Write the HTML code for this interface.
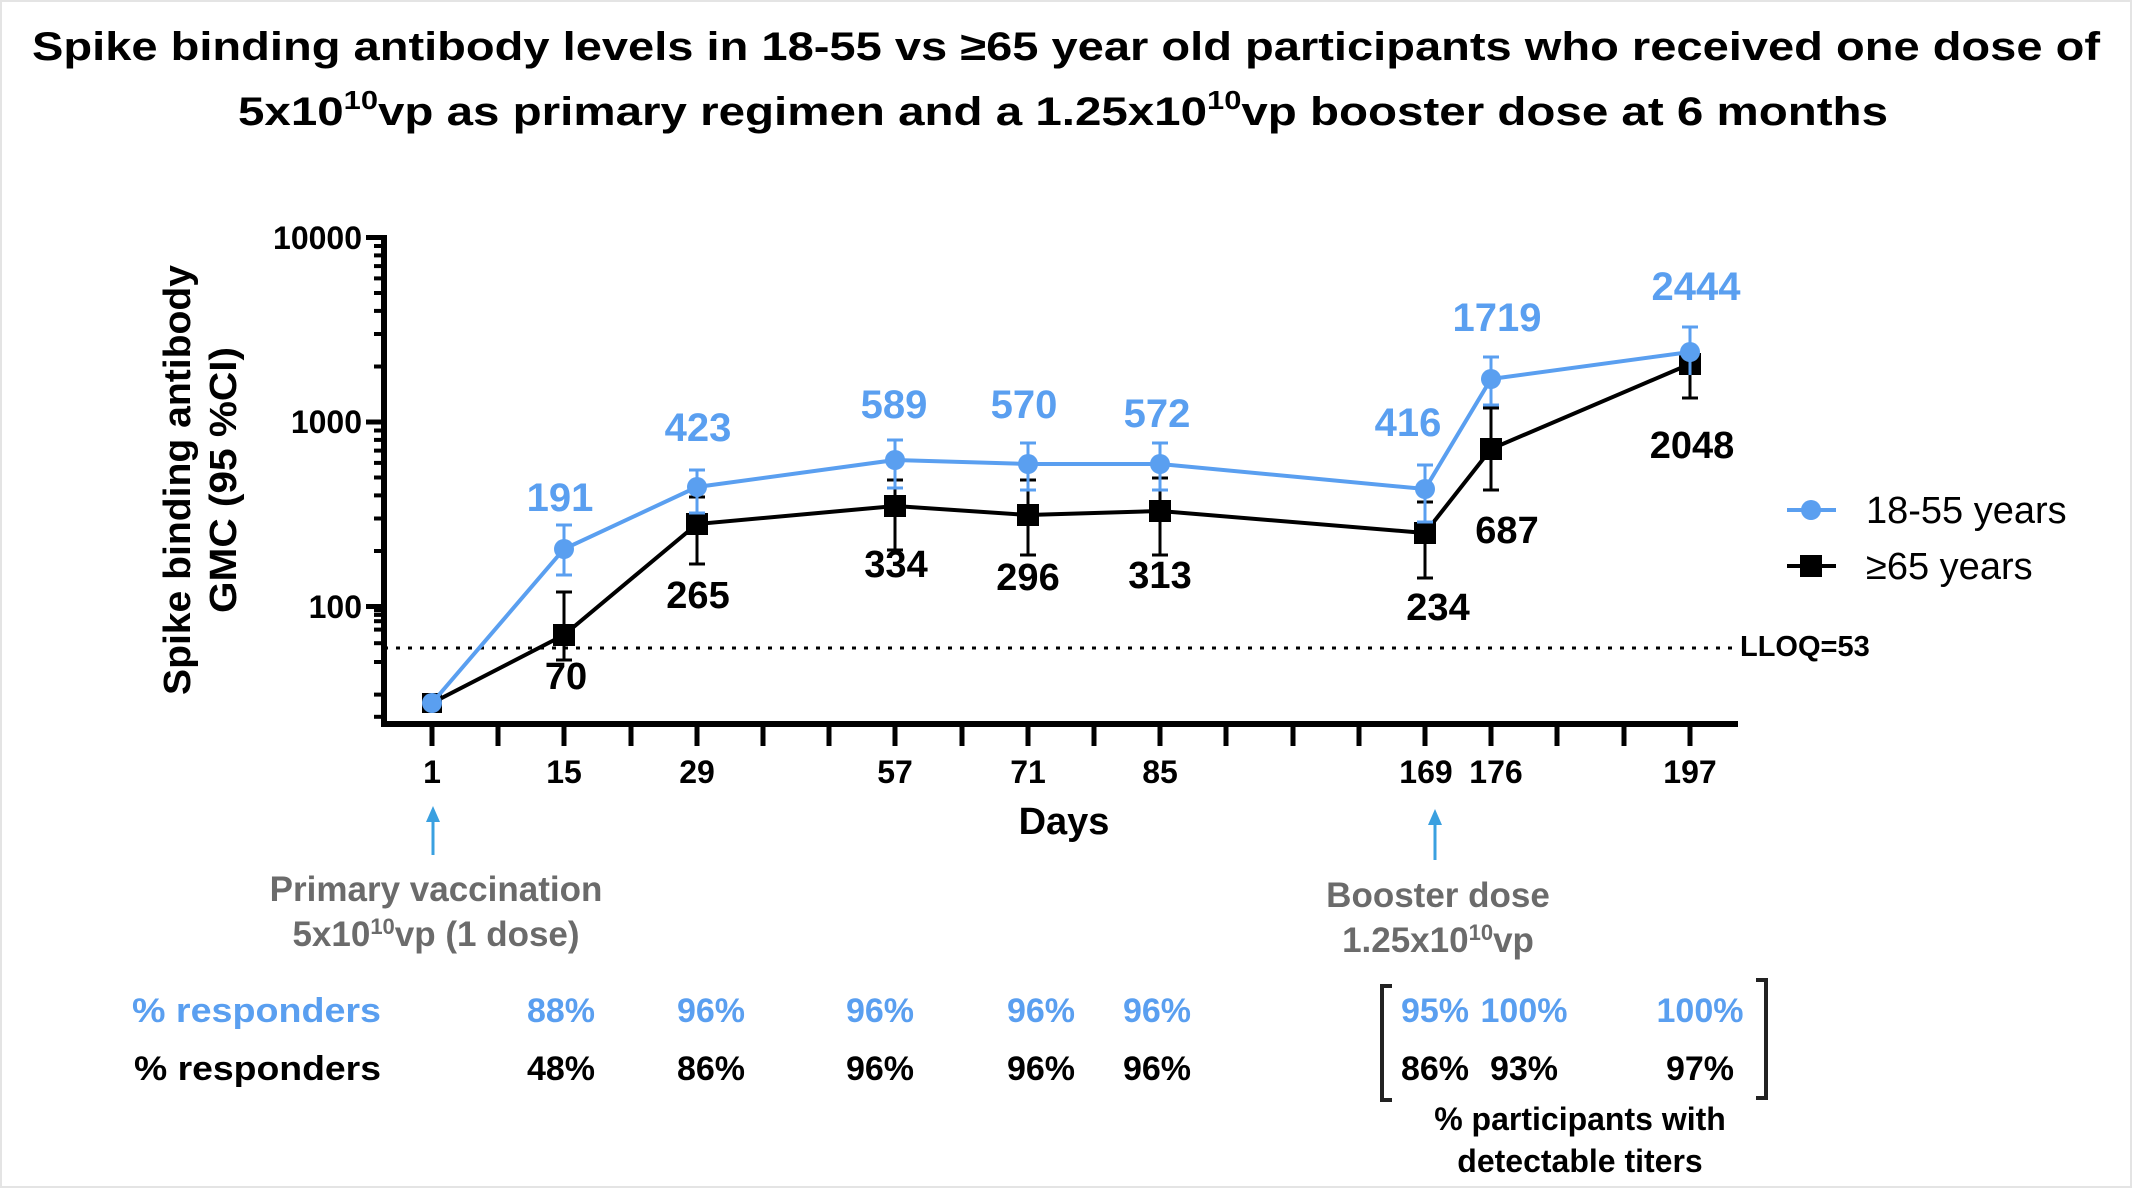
<!DOCTYPE html>
<html><head><meta charset="utf-8"><style>
html,body{margin:0;padding:0;background:#fff}
svg{display:block}
text{font-family:"Liberation Sans Narrow","Liberation Sans",sans-serif;font-weight:bold}
.t{font-family:"Liberation Sans",sans-serif}
.b{fill:#5a9ff0}
.g{fill:#6b6b6b}
</style></head><body>
<svg width="2132" height="1188" viewBox="0 0 2132 1188" xmlns="http://www.w3.org/2000/svg">
<rect x="1" y="1" width="2130" height="1186" fill="#fff" stroke="#e4e4e4" stroke-width="2"/>
<!-- Title -->
<text class="t" x="1066" y="60" font-size="40" text-anchor="middle" textLength="2068" lengthAdjust="spacingAndGlyphs">Spike binding antibody levels in 18-55 vs ≥65 year old participants who received one dose of</text>
<text class="t" x="1063" y="125" font-size="40" text-anchor="middle" textLength="1650" lengthAdjust="spacingAndGlyphs">5x10<tspan dy="-16" font-size="26">10</tspan><tspan dy="16">vp as primary regimen and a 1.25x10</tspan><tspan dy="-16" font-size="26">10</tspan><tspan dy="16">vp booster dose at 6 months</tspan></text>

<!-- Y axis label -->
<text class="t" transform="translate(190,480) rotate(-90)" font-size="38" text-anchor="middle" textLength="430" lengthAdjust="spacingAndGlyphs">Spike binding antibody</text>
<text class="t" transform="translate(236,480) rotate(-90)" font-size="38" text-anchor="middle" textLength="266" lengthAdjust="spacingAndGlyphs">GMC (95 %CI)</text>

<!-- Axes -->
<g stroke="#000" fill="none">
<line x1="384" y1="235" x2="384" y2="727" stroke-width="6"/>
<line x1="381" y1="724" x2="1738" y2="724" stroke-width="6"/>
<g stroke-width="5">
<line x1="366" y1="237.5" x2="384" y2="237.5"/>
<line x1="366" y1="422" x2="384" y2="422"/>
<line x1="366" y1="606.5" x2="384" y2="606.5"/>
</g>
<g stroke-width="4">
<line x1="374" y1="662" x2="384" y2="662"/><line x1="374" y1="643.2" x2="384" y2="643.2"/><line x1="374" y1="629.6" x2="384" y2="629.6"/><line x1="374" y1="621.2" x2="384" y2="621.2"/><line x1="374" y1="614.9" x2="384" y2="614.9"/><line x1="374" y1="610.3" x2="384" y2="610.3"/><line x1="374" y1="694.6" x2="384" y2="694.6"/><line x1="374" y1="716.8" x2="384" y2="716.8"/>
<line x1="374" y1="551" x2="384" y2="551"/><line x1="374" y1="518.5" x2="384" y2="518.5"/><line x1="374" y1="495.4" x2="384" y2="495.4"/><line x1="374" y1="477.5" x2="384" y2="477.5"/><line x1="374" y1="462.9" x2="384" y2="462.9"/><line x1="374" y1="450.6" x2="384" y2="450.6"/><line x1="374" y1="439.9" x2="384" y2="439.9"/><line x1="374" y1="430.5" x2="384" y2="430.5"/>
<line x1="374" y1="366.5" x2="384" y2="366.5"/><line x1="374" y1="334" x2="384" y2="334"/><line x1="374" y1="310.9" x2="384" y2="310.9"/><line x1="374" y1="293" x2="384" y2="293"/><line x1="374" y1="278.4" x2="384" y2="278.4"/><line x1="374" y1="266.1" x2="384" y2="266.1"/><line x1="374" y1="255.4" x2="384" y2="255.4"/><line x1="374" y1="246" x2="384" y2="246"/>
</g>
<g stroke-width="5">
<line x1="432" y1="724" x2="432" y2="746"/><line x1="498" y1="724" x2="498" y2="746"/><line x1="564" y1="724" x2="564" y2="746"/><line x1="631" y1="724" x2="631" y2="746"/><line x1="697" y1="724" x2="697" y2="746"/><line x1="763" y1="724" x2="763" y2="746"/><line x1="829" y1="724" x2="829" y2="746"/><line x1="895" y1="724" x2="895" y2="746"/><line x1="962" y1="724" x2="962" y2="746"/><line x1="1028" y1="724" x2="1028" y2="746"/><line x1="1094" y1="724" x2="1094" y2="746"/><line x1="1160" y1="724" x2="1160" y2="746"/><line x1="1226" y1="724" x2="1226" y2="746"/><line x1="1293" y1="724" x2="1293" y2="746"/><line x1="1359" y1="724" x2="1359" y2="746"/><line x1="1425" y1="724" x2="1425" y2="746"/><line x1="1491" y1="724" x2="1491" y2="746"/><line x1="1557" y1="724" x2="1557" y2="746"/><line x1="1624" y1="724" x2="1624" y2="746"/><line x1="1690" y1="724" x2="1690" y2="746"/>
</g>
<line x1="384" y1="648" x2="1738" y2="648" stroke-width="3" stroke-dasharray="4,8"/>
</g>
<text x="1740" y="656" font-size="29" font-family="Liberation Sans">LLOQ=53</text>

<g font-size="32" text-anchor="end">
<text x="362" y="249">10000</text>
<text x="362" y="433">1000</text>
<text x="362" y="618">100</text>
</g>
<g font-size="32" text-anchor="middle">
<text x="432" y="783">1</text><text x="564" y="783">15</text><text x="697" y="783">29</text><text x="895" y="783">57</text><text x="1028" y="783">71</text><text x="1160" y="783">85</text><text x="1426" y="783">169</text><text x="1496" y="783">176</text><text x="1690" y="783">197</text>
</g>
<text x="1064" y="834" font-size="38" text-anchor="middle">Days</text>

<!-- black series -->
<g stroke="#000" stroke-width="3" fill="none">
<line x1="564" y1="592" x2="564" y2="660"/><line x1="556" y1="592" x2="572" y2="592"/><line x1="556" y1="660" x2="572" y2="660"/>
<line x1="697" y1="497" x2="697" y2="564"/><line x1="689" y1="497" x2="705" y2="497"/><line x1="689" y1="564" x2="705" y2="564"/>
<line x1="895" y1="480" x2="895" y2="550"/><line x1="887" y1="480" x2="903" y2="480"/><line x1="887" y1="550" x2="903" y2="550"/>
<line x1="1028" y1="480" x2="1028" y2="555"/><line x1="1020" y1="480" x2="1036" y2="480"/><line x1="1020" y1="555" x2="1036" y2="555"/>
<line x1="1160" y1="478" x2="1160" y2="555"/><line x1="1152" y1="478" x2="1168" y2="478"/><line x1="1152" y1="555" x2="1168" y2="555"/>
<line x1="1425" y1="502" x2="1425" y2="578"/><line x1="1417" y1="502" x2="1433" y2="502"/><line x1="1417" y1="578" x2="1433" y2="578"/>
<line x1="1491" y1="408" x2="1491" y2="490"/><line x1="1483" y1="408" x2="1499" y2="408"/><line x1="1483" y1="490" x2="1499" y2="490"/>
<line x1="1690" y1="345" x2="1690" y2="398"/><line x1="1682" y1="398" x2="1698" y2="398"/>
<polyline stroke-width="4" points="432,703 564,635 697,524 895,506 1028,515 1160,511 1425,533 1491,449 1690,364"/>
</g>
<g fill="#000">
<rect x="553" y="624" width="22" height="22"/><rect x="686" y="513" width="22" height="22"/><rect x="884" y="495" width="22" height="22"/><rect x="1017" y="504" width="22" height="22"/><rect x="1149" y="500" width="22" height="22"/><rect x="1414" y="522" width="22" height="22"/><rect x="1480" y="438" width="22" height="22"/><rect x="1679" y="353" width="22" height="22"/>
<rect x="422" y="693" width="20" height="20"/>
</g>

<!-- blue series -->
<g stroke="#5a9ff0" stroke-width="3" fill="none">
<line x1="564" y1="525" x2="564" y2="575"/><line x1="556" y1="525" x2="572" y2="525"/><line x1="556" y1="575" x2="572" y2="575"/>
<line x1="697" y1="470" x2="697" y2="513"/><line x1="689" y1="470" x2="705" y2="470"/><line x1="689" y1="513" x2="705" y2="513"/>
<line x1="895" y1="440" x2="895" y2="488"/><line x1="887" y1="440" x2="903" y2="440"/><line x1="887" y1="488" x2="903" y2="488"/>
<line x1="1028" y1="443" x2="1028" y2="490"/><line x1="1020" y1="443" x2="1036" y2="443"/><line x1="1020" y1="490" x2="1036" y2="490"/>
<line x1="1160" y1="443" x2="1160" y2="490"/><line x1="1152" y1="443" x2="1168" y2="443"/><line x1="1152" y1="490" x2="1168" y2="490"/>
<line x1="1425" y1="465" x2="1425" y2="522"/><line x1="1417" y1="465" x2="1433" y2="465"/><line x1="1417" y1="522" x2="1433" y2="522"/>
<line x1="1491" y1="357" x2="1491" y2="405"/><line x1="1483" y1="357" x2="1499" y2="357"/><line x1="1483" y1="405" x2="1499" y2="405"/>
<line x1="1690" y1="327" x2="1690" y2="375"/><line x1="1682" y1="327" x2="1698" y2="327"/>
<polyline stroke-width="4" points="432,703 564,549 697,487 895,460 1028,464 1160,464 1425,489 1491,379 1690,352"/>
</g>
<g fill="#5a9ff0">
<circle cx="432" cy="703" r="10"/><circle cx="564" cy="549" r="10"/><circle cx="697" cy="487" r="10"/><circle cx="895" cy="460" r="10"/><circle cx="1028" cy="464" r="10"/><circle cx="1160" cy="464" r="10"/><circle cx="1425" cy="489" r="10"/><circle cx="1491" cy="379" r="10"/><circle cx="1690" cy="352" r="10"/>
</g>

<g font-size="40" text-anchor="middle" class="b" style="font-weight:normal">
<text x="560" y="511">191</text><text x="698" y="441">423</text><text x="894" y="418">589</text><text x="1024" y="418">570</text><text x="1157" y="427">572</text><text x="1408" y="436">416</text><text x="1497" y="331">1719</text><text x="1696" y="300">2444</text>
</g>
<g font-size="38" text-anchor="middle">
<text x="566" y="689">70</text><text x="698" y="608">265</text><text x="896" y="577">334</text><text x="1028" y="590">296</text><text x="1160" y="588">313</text><text x="1438" y="620">234</text><text x="1507" y="543">687</text><text x="1692" y="458">2048</text>
</g>

<!-- legend -->
<line x1="1787" y1="510" x2="1836" y2="510" stroke="#5a9ff0" stroke-width="4"/>
<circle cx="1811" cy="510" r="10" fill="#5a9ff0"/>
<text x="1866" y="523" font-size="38" style="font-weight:normal" font-family="Liberation Sans">18-55 years</text>
<line x1="1787" y1="566" x2="1836" y2="566" stroke="#000" stroke-width="4"/>
<rect x="1800" y="555" width="22" height="22"/>
<text x="1866" y="579" font-size="38" style="font-weight:normal" font-family="Liberation Sans">≥65 years</text>

<!-- arrows -->
<g stroke="#3aa0e0" stroke-width="3" fill="#3aa0e0">
<line x1="433" y1="820" x2="433" y2="855"/><polygon points="426,822 440,822 433,806" stroke="none"/>
<line x1="1435" y1="823" x2="1435" y2="860"/><polygon points="1428,825 1442,825 1435,809" stroke="none"/>
</g>
<g class="g" font-size="35" text-anchor="middle">
<text x="436" y="901">Primary vaccination</text>
<text x="436" y="946">5x10<tspan dy="-12" font-size="22">10</tspan><tspan dy="12">vp (1 dose)</tspan></text>
<text x="1438" y="907">Booster dose</text>
<text x="1438" y="952">1.25x10<tspan dy="-12" font-size="22">10</tspan><tspan dy="12">vp</tspan></text>
</g>

<g font-size="34">
<text x="132" y="1022" class="b" textLength="249" lengthAdjust="spacingAndGlyphs">% responders</text>
<text x="134" y="1080" textLength="247" lengthAdjust="spacingAndGlyphs">% responders</text>
</g>
<g font-size="34" text-anchor="middle" class="b">
<text x="561" y="1022">88%</text><text x="711" y="1022">96%</text><text x="880" y="1022">96%</text><text x="1041" y="1022">96%</text><text x="1157" y="1022">96%</text><text x="1435" y="1022">95%</text><text x="1524" y="1022">100%</text><text x="1700" y="1022">100%</text>
</g>
<g font-size="34" text-anchor="middle">
<text x="561" y="1080">48%</text><text x="711" y="1080">86%</text><text x="880" y="1080">96%</text><text x="1041" y="1080">96%</text><text x="1157" y="1080">96%</text><text x="1435" y="1080">86%</text><text x="1524" y="1080">93%</text><text x="1700" y="1080">97%</text>
</g>
<g stroke="#222" stroke-width="4" fill="none">
<polyline points="1392,986 1382,986 1382,1100 1392,1100"/>
<polyline points="1756,980 1766,980 1766,1098 1756,1098"/>
</g>
<g font-size="32" text-anchor="middle">
<text x="1580" y="1130">% participants with</text>
<text x="1580" y="1172">detectable titers</text>
</g>
</svg>
</body></html>
